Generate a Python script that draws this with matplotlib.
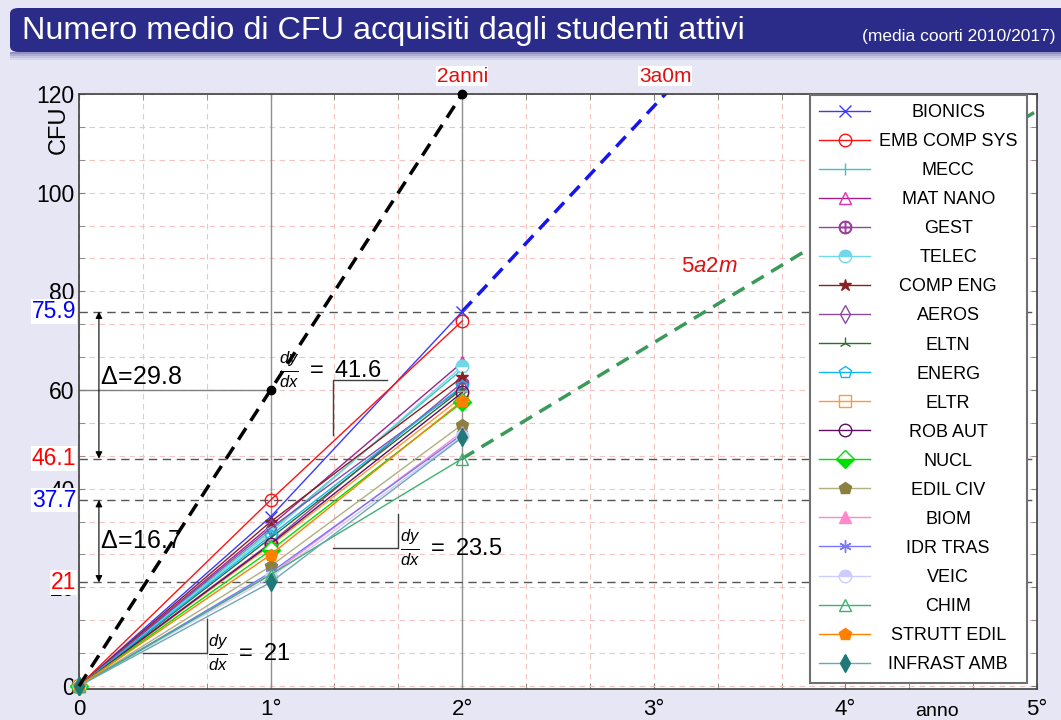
import matplotlib
matplotlib.use('Agg')
import matplotlib.pyplot as plt
from matplotlib.patches import FancyBboxPatch, Rectangle
from matplotlib.offsetbox import HPacker, DrawingArea
import matplotlib.transforms as mtransforms

plt.rcParams['font.family'] = ['Liberation Sans', 'DejaVu Sans']
plt.rcParams['mathtext.fontset'] = 'custom'
plt.rcParams['mathtext.rm'] = 'Liberation Sans'
plt.rcParams['mathtext.it'] = 'Liberation Sans:italic'

# CFU medi acquisiti dopo il 1° e il 2° anno
programs = ['BIONICS', 'EMB COMP SYS', 'MECC', 'MAT NANO', 'GEST', 'TELEC',
            'COMP ENG', 'AEROS', 'ELTN', 'ENERG', 'ELTR', 'ROB AUT', 'NUCL',
            'EDIL CIV', 'BIOM', 'IDR TRAS', 'VEIC', 'CHIM', 'STRUTT EDIL',
            'INFRAST AMB']
cfu_year1 = [34.3, 37.7, 31.5, 32.5, 29.0, 31.0, 33.3, 32.0, 30.0, 30.5,
             28.5, 28.8, 27.5, 24.3, 22.5, 23.0, 22.0, 22.6, 26.6, 21.0]
cfu_year2 = [75.9, 74.0, 64.2, 65.6, 61.5, 64.8, 62.6, 60.5, 60.2, 60.8,
             58.6, 59.5, 57.5, 53.0, 51.5, 51.0, 50.6, 46.1, 57.8, 50.4]

years = [0, 1, 2]
xtick_labels = ['0', '1°', '2°', '3°', '4°', '5°']

# livelli di riferimento e pendenze
ref_levels = [75.9, 46.1, 37.7, 21]
ref_colors = ['blue', 'red', 'blue', 'red']
target_cfu = 120
target_pace = [0, 60, 120]
fast_start, fast_slope = 75.9, 41.6
slow_start, slow_slope = 46.1, 23.5
first_slope = 21

styles = [
    dict(color='#3a3aff', marker='x', mfc='none'),
    dict(color='#ff1010', marker='o', mfc='none'),
    dict(color='#40c0c0', marker='|', mfc='none'),
    dict(color='#a02090', marker='^', mfc='none', mec='#e030b0'),
    dict(color='#9a40a0', marker='$\\oplus$'),
    dict(color='#70d8e8', marker='o', fillstyle='top', markerfacecoloralt='white'),
    dict(color='#8b2020', marker='*'),
    dict(color='#8a4aa0', marker='d', mfc='none'),
    dict(color='#2d6e2d', marker='2'),
    dict(color='#10b8f0', marker='p', mfc='none'),
    dict(color='#ff9933', marker='s', mfc='none'),
    dict(color='#5e1060', marker='o', mfc='none'),
    dict(color='#00e000', marker='D', fillstyle='bottom', markerfacecoloralt='white'),
    dict(color='#b0b080', marker='p', mfc='#8a8040', mec='#8a8040'),
    dict(color='#ff88cc', marker='^'),
    dict(color='#7777ff', marker=(6, 2, 0)),
    dict(color='#ccccff', marker='o', fillstyle='top', markerfacecoloralt='white'),
    dict(color='#3cb371', marker='^', mfc='none'),
    dict(color='#ff8000', marker='p'),
    dict(color='#70a8b0', marker='d', mfc='#207878', mec='#207878'),
]

fig = plt.figure(figsize=(10.61, 7.2), dpi=100, facecolor='#e6e6f5')

# barra del titolo
fig.add_artist(FancyBboxPatch((10 / 1061, 1 - 52 / 720), 1, 44 / 720,
                              boxstyle='round,pad=0,rounding_size=0.008',
                              transform=fig.transFigure, fc='#2b2b8a', ec='none'))
for i, a in enumerate([0.45, 0.3, 0.18, 0.08]):
    fig.add_artist(Rectangle((10 / 1061, 1 - (54 + 2 * i) / 720), 1, 2 / 720,
                             transform=fig.transFigure, fc='#2b2b8a', ec='none', alpha=a))
fig.text(22 / 1061, 1 - 31 / 720, 'Numero medio di CFU acquisiti dagli studenti attivi',
         color='white', fontsize=23.3, va='center', ha='left')
fig.text(1055 / 1061, 1 - 36 / 720, '(media coorti 2010/2017)',
         color='white', fontsize=12.5, va='center', ha='right')

ax = fig.add_axes([79 / 1061, 1 - 689 / 720, 958 / 1061, 595 / 720])
ax.set_facecolor('white')
ax.set_xlim(0, 5)
ax.set_ylim(-0.6, 120)

ax.set_xticks(range(6))
ax.set_xticklabels(xtick_labels, fontsize=16)
ax.set_xticks([i / 3 for i in range(16)], minor=True)
ax.set_yticks(range(0, 121, 20))
ax.set_yticks([i * 20 / 3 for i in range(19)], minor=True)
ax.tick_params(axis='y', labelsize=16.5, pad=3)
ax.tick_params(axis='x', pad=7)
ax.tick_params(which='both', direction='in', top=True, right=True,
               color='#808080', length=4)
ax.grid(which='both', color='#f2c4c4', ls=(0, (5, 4)), lw=0.8)
ax.set_axisbelow(True)
for s in ax.spines.values():
    s.set_color('#404040')
    s.set_linewidth(1.2)

# linee guida
ax.axvline(1, color='#909090', lw=1, zorder=1.5)
ax.axvline(2, color='#909090', lw=1, zorder=1.5)
ax.plot([0, 1], [60, 60], color='#808080', lw=1, zorder=1.5)
for lev in ref_levels:
    ax.axhline(lev, color='#555555', lw=1, ls=(0, (6, 4)), zorder=1.5)

trans = mtransforms.blended_transform_factory(ax.transAxes, ax.transData)
for lev, c in zip(ref_levels, ref_colors):
    ax.text(-0.003, lev, '%g' % lev, transform=trans, ha='right', va='center',
            color=c, fontsize=16.5, zorder=5,
            bbox=dict(fc='white', ec='none', pad=0.5))

# serie dei corsi di studio
for name, v1, v2, st in zip(programs, cfu_year1, cfu_year2, styles):
    st = dict(st)
    color = st.pop('color')
    if 'mec' not in st:
        st['mec'] = color
    ax.plot(years, [0, v1, v2], color=color, lw=1, ms=9, label=name,
            clip_on=False, zorder=3, **st)

# proiezioni
ax.plot(years, target_pace, color='black', lw=2.5, ls=(0, (4, 2.5)),
        marker='o', ms=6, markevery=[1, 2], clip_on=False, zorder=4)
ax.plot([2, 5], [fast_start, fast_start + 3 * fast_slope], color='#1515ee',
        lw=2.5, ls=(0, (4, 2.5)), zorder=2.5)
ax.plot([2, 5], [slow_start, slow_start + 3 * slow_slope], color='#3a9a5a',
        lw=2.5, ls=(0, (4, 2.5)), zorder=2.5)

ax.annotate('2anni', xy=(2, 1), xycoords=('data', 'axes fraction'),
            xytext=(0, 6), textcoords='offset points', ha='center', va='bottom',
            color='#e01010', fontsize=15, bbox=dict(fc='white', ec='none', pad=0.5))
ax.annotate('3a0m', xy=(2 + (target_cfu - fast_start) / fast_slope, 1),
            xycoords=('data', 'axes fraction'), xytext=(0, 6),
            textcoords='offset points', ha='center', va='bottom',
            color='#e01010', fontsize=15, bbox=dict(fc='white', ec='none', pad=0.5))
ax.text(3.29, 85, '$5a2m$', color='#e01010', fontsize=16, ha='center', va='center',
        bbox=dict(fc='white', ec='none', pad=0.5), zorder=4)

# differenze
ax.annotate('', xy=(0.104, ref_levels[1]), xytext=(0.104, ref_levels[0]),
            arrowprops=dict(arrowstyle='<|-|>', lw=0.8, color='black',
                            mutation_scale=10, shrinkA=0, shrinkB=0))
ax.annotate('', xy=(0.104, ref_levels[3]), xytext=(0.104, ref_levels[2]),
            arrowprops=dict(arrowstyle='<|-|>', lw=0.8, color='black',
                            mutation_scale=10, shrinkA=0, shrinkB=0))
ax.text(0.11, 60.3, '$\\Delta\\!=\\!$%.1f' % (ref_levels[0] - ref_levels[1]),
        fontsize=18, va='bottom', ha='left', zorder=4)
ax.text(0.11, 29.4, '$\\Delta\\!=\\!$%.1f' % (ref_levels[2] - ref_levels[3]),
        fontsize=18, va='center', ha='left', zorder=4)

# triangoli di pendenza
ax.plot([1.325, 1.325, 1.607], [50.9, 62.1, 62.1], color='#404040', lw=1, zorder=3.5)
ax.text(1.045, 64, '$\\frac{dy}{dx}\\ =\\ %.1f$' % fast_slope, fontsize=17,
        va='center', ha='left', zorder=4)
ax.plot([1.325, 1.665, 1.665], [28.0, 28.0, 34.9], color='#404040', lw=1, zorder=3.5)
ax.text(1.675, 28.0, '$\\frac{dy}{dx}\\ =\\ %.1f$' % slow_slope, fontsize=17,
        va='center', ha='left', zorder=4)
ax.plot([0.334, 0.668, 0.668], [6.7, 6.7, 13.6], color='#404040', lw=1, zorder=3.5)
ax.text(0.673, 6.7, '$\\frac{dy}{dx}\\ =\\ %g$' % first_slope, fontsize=17,
        va='center', ha='left', zorder=4)

ax.text(-0.021, 0.94, 'CFU', rotation=90, transform=ax.transAxes,
        ha='center', va='center', fontsize=17)
ax.annotate('anno', xy=(4.48, 0), xycoords=('data', 'axes fraction'),
            xytext=(0, -16), textcoords='offset points', ha='center', va='center',
            fontsize=14)

leg = ax.legend(loc='upper right', bbox_to_anchor=(0.9896, 0.999),
                borderaxespad=0, fontsize=13, handlelength=2.8,
                handletextpad=0.5, labelspacing=0.667, borderpad=0.53,
                fancybox=False, framealpha=1, edgecolor='#707070')
leg.get_frame().set_linewidth(1.5)
leg.set_zorder(6)

# testo della legenda centrato
fig.canvas.draw()
r = fig.canvas.get_renderer()
widths = [t.get_window_extent(r).width for t in leg.get_texts()]
wmax = max(widths)
col = leg._legend_handle_box.get_children()[0]
for row, w in zip(col.get_children(), widths):
    h, ta = row.get_children()
    pad = (wmax - w) / 2 * 72 / fig.dpi
    row._children = [h, HPacker(pad=0, sep=0, children=[DrawingArea(pad, 1), ta])]

fig.savefig('out.png', dpi=100, facecolor=fig.get_facecolor())
